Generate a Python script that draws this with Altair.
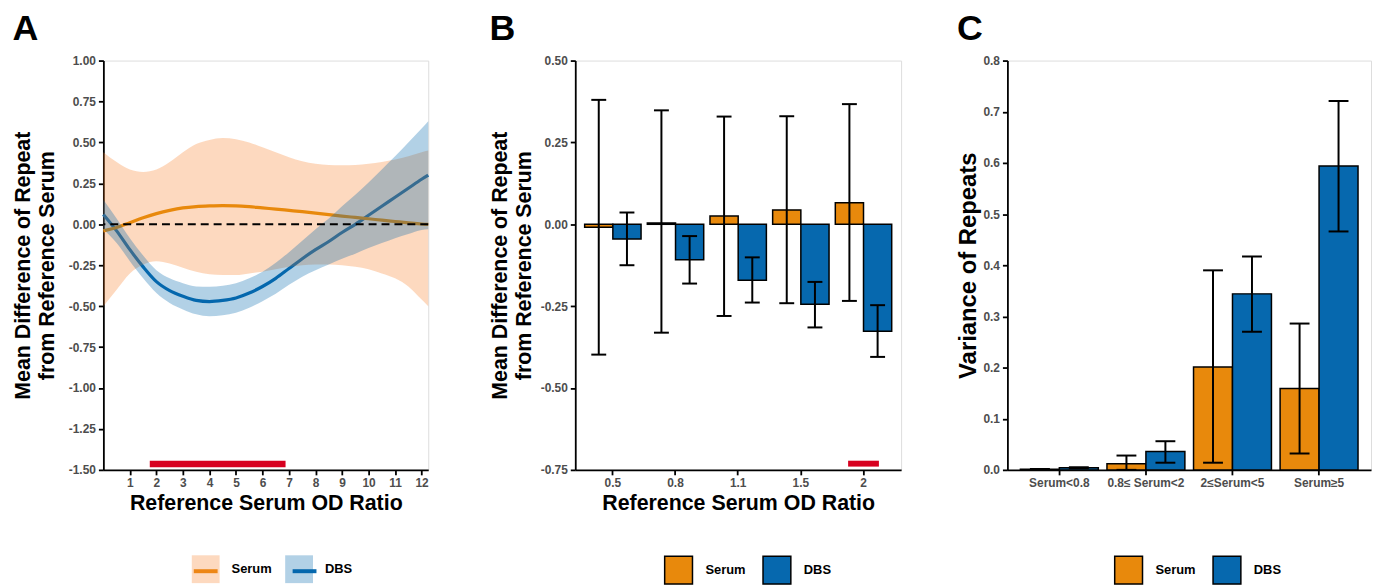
import altair as alt
import pandas as pd

FONT = "Liberation Sans"
ORANGE = "#E8890C"
BLUE = "#0668AE"
ORANGE_BAND = "#F7802A"
BLUE_BAND = "#0066AC"
RED = "#D7001F"
SERIES = ["Serum", "DBS"]
SERIES_L = ["Serum ", "DBS "]

# ---------------- Panel A data (smoothed curves) ----------------
a_x = [0, 0.5, 1, 1.5, 2, 2.5, 3, 3.5, 4, 4.5, 5, 5.5, 6, 6.5, 7, 7.5, 8, 8.5,
       9, 9.5, 10, 10.5, 11, 11.5, 12, 12.25]
a_serum_mean = [-0.04, -0.02, 0.01, 0.04, 0.065, 0.085, 0.100, 0.108, 0.112, 0.114,
                0.113, 0.108, 0.100, 0.093, 0.085, 0.077, 0.068, 0.059, 0.050, 0.042,
                0.034, 0.025, 0.017, 0.009, 0.002, 0.0]
a_serum_hi = [0.44, 0.38, 0.335, 0.32, 0.335, 0.38, 0.44, 0.49, 0.515, 0.527, 0.52,
              0.50, 0.47, 0.44, 0.41, 0.385, 0.37, 0.362, 0.36, 0.362, 0.37, 0.38,
              0.395, 0.415, 0.44, 0.45]
a_serum_lo = [-0.50, -0.40, -0.30, -0.245, -0.225, -0.24, -0.265, -0.29, -0.305, -0.31,
              -0.31, -0.30, -0.29, -0.275, -0.26, -0.25, -0.245, -0.245, -0.25, -0.26,
              -0.275, -0.30, -0.33, -0.38, -0.46, -0.50]
a_dbs_mean = [0.06, -0.04, -0.155, -0.26, -0.35, -0.405, -0.44, -0.465, -0.472, -0.465,
              -0.45, -0.42, -0.38, -0.33, -0.27, -0.21, -0.155, -0.105, -0.05, 0.0,
              0.055, 0.11, 0.165, 0.22, 0.275, 0.30]
a_dbs_hi = [0.15, 0.035, -0.085, -0.19, -0.28, -0.33, -0.36, -0.38, -0.382, -0.375,
            -0.36, -0.33, -0.29, -0.235, -0.17, -0.10, -0.03, 0.035, 0.11, 0.18,
            0.255, 0.335, 0.415, 0.50, 0.585, 0.63]
a_dbs_lo = [-0.03, -0.115, -0.225, -0.33, -0.42, -0.48, -0.52, -0.55, -0.562, -0.555,
            -0.54, -0.51, -0.47, -0.425, -0.37, -0.32, -0.28, -0.245, -0.21, -0.18,
            -0.145, -0.115, -0.085, -0.06, -0.035, -0.03]
a_xticks = [1, 2, 3, 4, 5, 6, 7, 8, 9, 10, 11, 12]
a_yticks = [-1.5, -1.25, -1.0, -0.75, -0.5, -0.25, 0.0, 0.25, 0.5, 0.75, 1.0]
a_sig_x = [1.75, 6.87]
a_sig_y = [-1.484, -1.444]

# ---------------- Panel B data ----------------
b_cats = ["0.5", "0.8", "1.1", "1.5", "2"]
b_serum = [-0.009, 0.004, 0.025, 0.044, 0.066]
b_serum_lo = [-0.398, -0.331, -0.280, -0.241, -0.234]
b_serum_hi = [0.380, 0.348, 0.329, 0.330, 0.367]
b_dbs = [-0.045, -0.108, -0.171, -0.244, -0.327]
b_dbs_lo = [-0.125, -0.181, -0.239, -0.315, -0.405]
b_dbs_hi = [0.036, -0.036, -0.101, -0.176, -0.247]
b_yticks = [-0.75, -0.5, -0.25, 0.0, 0.25, 0.5]
b_sig_cat = "2"
b_sig_y = [-0.740, -0.722]

# ---------------- Panel C data ----------------
c_cats = ["Serum<0.8", "0.8≤ Serum<2", "2≤Serum<5", "Serum≥5"]
c_serum = [0.001, 0.012, 0.201, 0.159]
c_serum_lo = [0.0005, 0.0, 0.014, 0.032]
c_serum_hi = [0.0015, 0.028, 0.390, 0.286]
c_dbs = [0.004, 0.036, 0.344, 0.594]
c_dbs_lo = [0.003, 0.014, 0.270, 0.466]
c_dbs_hi = [0.005, 0.056, 0.417, 0.721]
c_yticks = [0.0, 0.1, 0.2, 0.3, 0.4, 0.5, 0.6, 0.7, 0.8]

# ---------------- common styles ----------------
AX = dict(domainColor="black", domainWidth=1.8, tickColor="black", tickWidth=1.8,
          tickSize=5, labelColor="#4D4D4D", labelFont=FONT, labelFontWeight="bold",
          labelFontSize=12, labelPadding=3, titleFont=FONT, titleFontWeight="bold",
          titleColor="black", grid=False)
MINUS = "replace(datum.label, '\u2212', '-')"


def title(letter):
    return alt.TitleParams(letter, anchor="start", frame="bounds", fontSize=36,
                           font=FONT, fontWeight="bold", color="black", offset=7)


def bar_legend(lx):
    return alt.Legend(orient="none", legendX=lx, legendY=498, direction="horizontal",
                      title=None, symbolType="square", symbolSize=784,
                      symbolStrokeColor="black", symbolStrokeWidth=1.5,
                      symbolOpacity=1, labelFont=FONT, labelFontSize=13,
                      labelFontWeight="bold", labelColor="black", labelOffset=12,
                      columnPadding=14, padding=0)


# ---------------- Panel A ----------------
rows = []
for i, x in enumerate(a_x):
    rows.append({"x": x, "series": "Serum", "fk": "Serum", "lk": "Serum ",
                 "mean": a_serum_mean[i], "lo": a_serum_lo[i], "hi": a_serum_hi[i]})
    rows.append({"x": x, "series": "DBS", "fk": "DBS", "lk": "DBS ",
                 "mean": a_dbs_mean[i], "lo": a_dbs_lo[i], "hi": a_dbs_hi[i]})
df_a = pd.DataFrame(rows)

xa_scale = alt.Scale(domain=[0, 12.25], nice=False, zero=False)
xa_axis = alt.Axis(values=a_xticks, title="Reference Serum OD Ratio", titleFontSize=21.5, **AX)
xa = alt.X("x:Q", scale=xa_scale, axis=xa_axis)
ya_axis = alt.Axis(values=a_yticks, format=".2f", labelExpr=MINUS,
                   title=["Mean Difference of Repeat", "from Reference Serum"],
                   titleFontSize=21.5, titleLineHeight=24, titlePadding=10, **AX)
ya_scale = alt.Scale(domain=[-1.5, 1.0], nice=False, zero=False)

# legend of the bands (light squares with labels)
fill_leg = alt.Legend(orient="none", legendX=89, legendY=498, direction="horizontal",
                      title=None, symbolType="square", symbolSize=784,
                      symbolStrokeWidth=0, symbolOpacity=0.3, labelFont=FONT,
                      labelFontSize=13, labelFontWeight="bold", labelColor="black",
                      labelOffset=12, columnPadding=13, padding=0)
# legend of the lines (stroke drawn over the squares, no labels of its own)
line_leg = alt.Legend(orient="none", legendX=89, legendY=500, direction="horizontal",
                      title=None, symbolType="stroke", symbolSize=576,
                      symbolStrokeWidth=4, symbolOpacity=1,
                      labelExpr="''", labelFont=FONT,
                      labelFontSize=13, labelFontWeight="bold", labelOffset=12,
                      columnPadding=53.5, padding=0)
fill_enc = alt.Fill("fk:N", scale=alt.Scale(domain=SERIES, range=[ORANGE_BAND, BLUE_BAND]),
                    legend=fill_leg)
stroke_enc = alt.Stroke("lk:N", scale=alt.Scale(domain=SERIES_L, range=[ORANGE, BLUE]),
                        legend=line_leg)

base_a = alt.Chart(df_a)
dbs_line = base_a.transform_filter(alt.datum.series == "DBS").mark_line(
    strokeWidth=3.2, interpolate="monotone").encode(
    x=xa, y=alt.Y("mean:Q", scale=ya_scale, axis=ya_axis), stroke=stroke_enc)
serum_band = base_a.transform_filter(alt.datum.series == "Serum").mark_area(
    opacity=0.3, interpolate="monotone").encode(
    x=xa, y=alt.Y("lo:Q", scale=ya_scale, axis=ya_axis), y2="hi:Q", fill=fill_enc)
serum_line = base_a.transform_filter(alt.datum.series == "Serum").mark_line(
    strokeWidth=3.2, interpolate="monotone").encode(
    x=xa, y=alt.Y("mean:Q", scale=ya_scale, axis=ya_axis), stroke=stroke_enc)
dbs_band = base_a.transform_filter(alt.datum.series == "DBS").mark_area(
    opacity=0.3, interpolate="monotone").encode(
    x=xa, y=alt.Y("lo:Q", scale=ya_scale, axis=ya_axis), y2="hi:Q", fill=fill_enc)
zero_rule = alt.Chart(pd.DataFrame({"z": [0.0]})).mark_rule(
    color="black", strokeWidth=2, strokeDash=[8, 5]).encode(
    y=alt.Y("z:Q", scale=ya_scale, axis=ya_axis))
sig_a = alt.Chart(pd.DataFrame({"x1": [a_sig_x[0]], "x2": [a_sig_x[1]],
                                "y1": [a_sig_y[0]], "y2": [a_sig_y[1]]})).mark_rect(
    color=RED).encode(x=alt.X("x1:Q", scale=xa_scale, axis=xa_axis), x2="x2:Q",
                      y=alt.Y("y1:Q", scale=ya_scale, axis=ya_axis), y2="y2:Q")

panel_a = alt.layer(dbs_line, serum_band, serum_line, dbs_band, zero_rule, sig_a).properties(
    width=327, height=412, title=title("A"))


# ---------------- bar panels ----------------
def bar_panel(cats, s, s_lo, s_hi, d, d_lo, d_hi, yticks, ydom, yfmt, ytitle,
              xtitle, cap, legx, sig=None, tpad=5, tsize=21.5):
    rows = []
    for i, c in enumerate(cats):
        rows.append({"cat": c, "series": "Serum", "val": s[i], "lo": s_lo[i], "hi": s_hi[i]})
        rows.append({"cat": c, "series": "DBS", "val": d[i], "lo": d_lo[i], "hi": d_hi[i]})
    df = pd.DataFrame(rows)
    xaxis = alt.Axis(title=xtitle, labelAngle=0, titleFontSize=21.5, **AX) if xtitle \
        else alt.Axis(title=None, labelAngle=0, **AX)
    xenc = alt.X("cat:N", sort=cats, scale=alt.Scale(domain=cats, paddingInner=0.1, paddingOuter=0.15),
                 axis=xaxis)
    xoff = alt.XOffset("series:N", scale=alt.Scale(domain=SERIES, paddingInner=0, paddingOuter=0))
    yscale = alt.Scale(domain=ydom, nice=False, zero=False)
    yaxis = alt.Axis(values=yticks, format=yfmt, labelExpr=MINUS, title=ytitle,
                     titleFontSize=tsize, titleLineHeight=24, titlePadding=tpad, **AX)
    base = alt.Chart(df)
    bars = base.mark_bar(stroke="black", strokeWidth=1.5).encode(
        x=xenc, xOffset=xoff, y=alt.Y("val:Q", scale=yscale, axis=yaxis), y2=alt.datum(0),
        fill=alt.Fill("series:N", scale=alt.Scale(domain=SERIES, range=[ORANGE, BLUE]),
                      legend=bar_legend(legx)))
    rules = base.mark_rule(color="black", strokeWidth=2).encode(
        x=xenc, xOffset=xoff, y=alt.Y("lo:Q", scale=yscale, axis=yaxis), y2="hi:Q")
    cap_lo = base.mark_tick(color="black", thickness=2, size=cap, orient="horizontal",
                            opacity=1).encode(
        x=xenc, xOffset=xoff, y=alt.Y("lo:Q", scale=yscale, axis=yaxis))
    cap_hi = base.mark_tick(color="black", thickness=2, size=cap, orient="horizontal",
                            opacity=1).encode(
        x=xenc, xOffset=xoff, y=alt.Y("hi:Q", scale=yscale, axis=yaxis))
    layers = [bars, rules, cap_lo, cap_hi]
    if sig is not None:
        sdf = pd.DataFrame({"cat": [sig[0]], "y1": [sig[1][0]], "y2": [sig[1][1]]})
        layers.append(alt.Chart(sdf).mark_bar(color=RED, width=31).encode(
            x=xenc, y=alt.Y("y1:Q", scale=yscale, axis=yaxis), y2="y2:Q"))
    return layers


panel_b = alt.layer(*bar_panel(
    b_cats, b_serum, b_serum_lo, b_serum_hi, b_dbs, b_dbs_lo, b_dbs_hi, b_yticks,
    [-0.75, 0.5], ".2f", ["Mean Difference of Repeat", "from Reference Serum"],
    "Reference Serum OD Ratio", 15, 89, sig=(b_sig_cat, b_sig_y))).properties(
    width=328, height=412, title=title("B"))

panel_c = alt.layer(*bar_panel(
    c_cats, c_serum, c_serum_lo, c_serum_hi, c_dbs, c_dbs_lo, c_dbs_hi, c_yticks,
    [0, 0.8], ".1f", "Variance of Repeats", None, 20, 107, tpad=2, tsize=24)).properties(
    width=366, height=412, title=title("C"))

chart = alt.hconcat(panel_a, panel_b, panel_c, spacing=54).resolve_scale(
    x="independent", y="independent", fill="independent", stroke="independent",
    xOffset="independent").resolve_legend(fill="independent", stroke="independent").properties(
    padding={"left": 4, "top": 0, "right": 0, "bottom": 0}).configure_view(
    stroke=None).configure(background="white", font=FONT)

chart.save("out.html", embed_options={"renderer": "svg", "actions": False})
